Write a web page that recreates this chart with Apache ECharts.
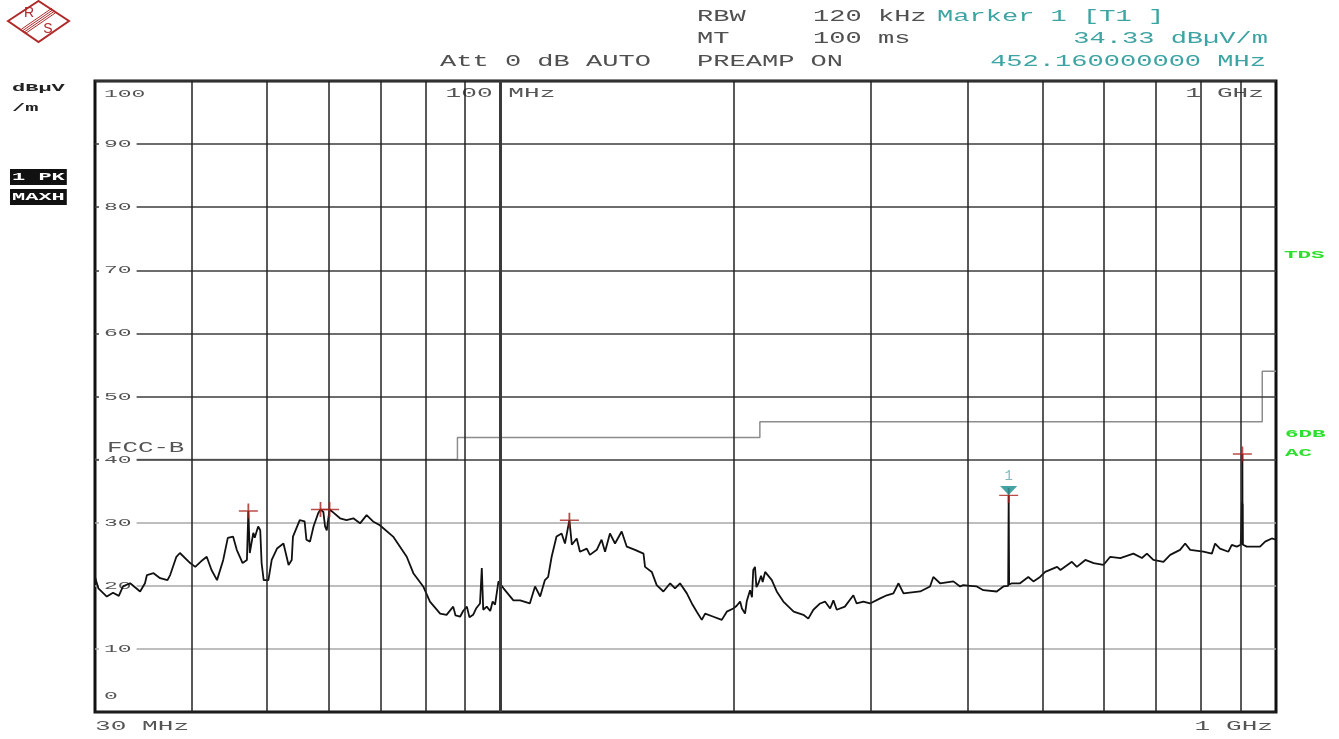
<!DOCTYPE html>
<html>
<head>
<meta charset="utf-8">
<script src="https://cdn.jsdelivr.net/npm/echarts@6/dist/echarts.min.js"></script>
<style>
  html, body { margin: 0; padding: 0; background: #fff; }
  #chart { width: 1339px; height: 739px; }
</style>
</head>
<body>
<div id="chart"></div>
<script>
// Radiated emission scan 30 MHz – 1 GHz, max-hold peak trace in dBµV/m

// Trace: frequency (MHz) and level (dBµV/m)
const traceFreq = [
  30, 30.3, 31.07, 31.65, 32.2, 32.6, 33.3, 34.3, 34.8, 35.0,
  35.7, 36.4, 37.2, 37.5, 38.2, 38.6, 39.8, 40.4, 41.3, 41.8,
  42.4, 43.1, 43.9, 44.5, 45.2, 45.7, 46.5, 47.1, 47.3, 47.5,
  48.0, 48.2, 48.7, 49.0, 49.2, 49.5, 50.2, 50.7, 51.5, 52.5,
  53.3, 53.8, 54.0, 55.1, 55.9, 56.2, 56.8, 57.4, 58.2, 58.6,
  59.1, 59.4, 59.7, 60.2, 60.9, 62.1, 63.3, 64.6, 65.9, 67.2,
  68.5, 69.9, 72.7, 75.7, 77.2, 79.5, 81.1, 83.6, 85.2, 86.9, 87.5,
  88.7, 89.5, 90.5, 91.2, 92.2, 93.0, 94.1, 94.6, 95.0, 96.0, 97.0, 97.7, 98.4, 99.4, 100.9,
  103.9, 106.0, 106.5, 109.1, 110.8, 112.5, 114.1, 115.2, 116.4, 118.1,
  119.9, 121.1, 122.7, 123.6, 125.4, 126.6, 129.2, 130.4, 133.1, 135.0,
  136.4, 138.4, 140.5, 143.3, 145.5, 149.1, 152.9, 153.6, 156.7, 159.0,
  162.2, 165.5, 167.9, 170.4, 173.9, 176.5, 179.1, 181.8, 183.6, 188.2,
  192.9, 195.8, 199.6, 201.5, 203.7, 204.8, 206.7, 207.8, 209.8, 211.0, 211.8, 212.9, 213.8, 215.1, 216.8, 217.8, 219.4, 223.8,
  227.1, 231.6, 238.8, 245.8, 249.4, 253.2, 258.3, 262.1, 266.1, 268.7,
  271.4, 278.0, 285.1, 287.9, 293.7, 299.6, 308.7, 314.9, 321.1, 326.0,
  330.9, 347.7, 358.0, 361.5, 368.8, 383.7, 391.4, 395.2, 403.2, 411.3,
  419.4, 436.4, 445.1, 451.5, 452.16, 452.8, 456.7, 467.7, 479.3, 486.6,
  496.3, 503.9, 522.1, 527.3, 545.5, 553.6, 567.7, 581.9, 599.0, 611.3,
  629.8, 654.8, 671.6, 681.6, 694.8, 715.9, 730.4, 752.1, 763.6, 775.1,
  806.1, 826.6, 834.6, 846.8, 868.2, 877.0, 890.0, 900.5, 903.5, 904.0,
  904.5, 905.0, 905.5, 906.0, 906.5, 917.0, 953.8, 968.3, 987.6, 1000
];
const traceLevel = [
  21.4, 19.6, 18.3, 18.9, 18.4, 19.9, 20.4, 19.1, 20.4, 21.7,
  22.0, 21.2, 20.9, 21.7, 24.6, 25.2, 23.6, 23.0, 24.1, 24.6,
  22.5, 20.9, 24.1, 27.6, 27.8, 25.7, 23.6, 24.1, 31.85, 25.2,
  28.4, 27.6, 29.4, 28.8, 23.6, 20.9, 20.9, 24.1, 25.9, 26.7,
  23.3, 24.1, 27.8, 30.4, 30.2, 27.3, 27.0, 29.4, 31.5, 32.1,
  31.7, 29.4, 28.8, 32.1, 31.6, 30.7, 30.4, 30.7, 29.9, 31.2,
  30.2, 29.6, 27.8, 24.6, 22.0, 19.9, 17.5, 15.6, 15.4, 16.7, 15.3,
  15.1, 16.0, 16.7, 15.0, 15.4, 16.4, 17.2, 22.8, 16.2, 16.7, 16.0, 17.5, 17.0, 20.7, 19.6,
  17.7, 17.7, 17.5, 17.2, 19.9, 18.3, 20.9, 21.4, 24.6, 27.8,
  28.3, 26.7, 30.4, 26.5, 27.5, 25.4, 25.9, 24.9, 25.7, 27.3,
  25.4, 28.3, 26.7, 28.6, 26.2, 25.7, 25.1, 23.0, 22.2, 20.1,
  19.1, 20.4, 19.6, 20.4, 18.8, 17.2, 15.9, 14.6, 15.6, 15.1,
  14.6, 15.9, 16.4, 16.8, 17.5, 16.4, 15.6, 17.6, 19.3, 18.2, 22.5, 23.0, 19.8, 20.4, 21.6, 20.6, 22.2, 20.9,
  19.1, 17.5, 15.9, 15.4, 14.8, 16.2, 17.2, 17.5, 16.4, 17.7,
  16.2, 16.7, 18.5, 17.2, 17.5, 17.2, 18.0, 18.5, 18.8, 20.4,
  18.8, 19.1, 19.9, 21.4, 20.4, 20.7, 19.9, 20.1, 20.0, 19.9,
  19.3, 19.1, 19.9, 20.0, 34.33, 20.2, 20.4, 20.4, 21.4, 20.7,
  21.4, 22.2, 23.0, 22.5, 23.8, 23.0, 24.1, 23.6, 23.3, 24.6,
  24.4, 25.1, 24.4, 25.1, 24.1, 23.8, 24.9, 25.7, 26.7, 25.7,
  25.4, 25.1, 26.7, 25.9, 25.4, 26.5, 26.2, 26.5, 26.4, 33.3,
  26.6, 40.9, 26.5, 33.0, 26.5, 26.2, 26.2, 27.0, 27.5, 27.3
];

// FCC class B limit line
const limitName = 'FCC-B';
const limitFreq = [30, 88, 88, 216, 216, 960, 960, 1000];
const limitLevel = [40, 40, 43.5, 43.5, 46, 46, 54, 54];

// Peak list (+) and marker 1
const peakFreq = [47.3, 58.6, 60.2, 122.7, 905.0];
const peakLevel = [31.85, 32.1, 32.1, 30.4, 40.9];
const markerFreq = 452.16;
const markerLevel = 34.33;

// Axis ticks and labels
const gridFreq = [40, 50, 60, 70, 80, 90, 100, 200, 300, 400, 500, 600, 700, 800, 900];
const yTicks = [0, 10, 20, 30, 40, 50, 60, 70, 80, 90, 100];
const yTickText = ['0', '10', '20', '30', '40', '50', '60', '70', '80', '90', '100'];
const topTickFreq = [100, 1000];
const topTickText = ['100 MHz', '1 GHz'];
const bottomTickFreq = [30, 1000];
const bottomTickText = ['30 MHz', '1 GHz'];

// Instrument settings shown in the header
const headerLeft = [['RBW', '120 kHz'], ['MT', '100 ms'], ['PREAMP', 'ON']];
const attText = 'Att 0 dB AUTO';
const unitText = ['dB\u00b5V', '/m'];
const traceModeText = ['1 PK', 'MAXH'];
const sideText = ['TDS', '6DB', 'AC'];

const FONT = "'Liberation Mono', 'DejaVu Sans Mono', monospace";
const zip = (a, b) => a.map((v, i) => [v, b[i]]);

const chart = echarts.init(document.getElementById('chart'), null, { renderer: 'canvas' });

const hLineColors = yTicks.map(v => (v === 0 ? '#222' : (v <= 30 ? '#a9a9a9' : '#3c3c3c')));

chart.setOption({
  animation: false,
  backgroundColor: '#fff',
  grid: {
    left: 95, right: 63, top: 81, bottom: 27,
    show: true, borderColor: '#111', borderWidth: 3, backgroundColor: 'transparent'
  },
  xAxis: {
    type: 'log', logBase: 10, min: 30, max: 1000,
    axisLine: { show: false }, axisTick: { show: false },
    axisLabel: { show: false }, splitLine: { show: false },
    minorTick: { show: false }, minorSplitLine: { show: false }
  },
  yAxis: {
    type: 'value', min: 0, max: 100, interval: 10, z: 1.5,
    axisLine: { show: false }, axisTick: { show: false }, axisLabel: { show: false },
    splitLine: { show: true, lineStyle: { color: hLineColors, width: 1.5 } }
  },
  series: [
    {
      name: limitName,
      type: 'line',
      data: zip(limitFreq, limitLevel),
      showSymbol: false, symbol: 'none', silent: true, z: 1,
      lineStyle: { color: '#8d8d8d', width: 1.5 },
      markLine: {
        silent: true, symbol: ['none', 'none'], animation: false,
        label: { show: false },
        emphasis: { disabled: true },
        lineStyle: { color: '#222', width: 1.5, type: 'solid' },
        data: gridFreq.map(f => (f === 100
          ? { xAxis: f, lineStyle: { color: '#3a3a3a', width: 3, type: 'solid' } }
          : { xAxis: f }))
      }
    },
    {
      name: 'Trace 1',
      type: 'line',
      data: zip(traceFreq, traceLevel),
      showSymbol: false, symbol: 'none', silent: true, z: 4,
      lineStyle: { color: '#111', width: 1.8 }
    },
    {
      name: 'Peaks',
      type: 'scatter',
      data: zip(peakFreq.concat([markerFreq]), peakLevel.concat([markerLevel])),
      symbol: 'path://M0,7L18,7M9,0L9,14',
      symbolSize: [19, 15],
      silent: true, z: 5,
      itemStyle: { color: 'none', borderColor: '#a8201a', borderWidth: 1.6 }
    },
    {
      name: 'Marker 1',
      type: 'scatter',
      data: [[markerFreq, markerLevel]],
      symbol: 'path://M0,0L20,0L10,10Z',
      symbolSize: [17, 9],
      symbolOffset: [0, -5],
      silent: true, z: 6,
      itemStyle: { color: '#178c8c' },
      label: {
        show: true, position: 'top', distance: 3, formatter: '1',
        color: '#5aa8a8', fontFamily: FONT, fontSize: 14
      }
    }
  ]
});

const px = f => chart.convertToPixel({ xAxisIndex: 0 }, f);
const py = v => chart.convertToPixel({ yAxisIndex: 0 }, v);

function label(text, x, y, o) {
  const align = o.align || 'left';
  const style = {
    text,
    font: `${o.weight || 'normal'} ${o.size}px ${FONT}`,
    fill: o.color,
    align, textAlign: align,
    verticalAlign: 'middle', textVerticalAlign: 'middle'
  };
  if (o.bg) { style.backgroundColor = o.bg; style.padding = o.pad || 0; }
  return { type: 'text', x, y, scaleX: o.sx || 1, z: o.z == null ? 3 : o.z, silent: true, style };
}

const H = { size: 16, sx: 1.69, color: '#505050', z: 7 };
const T = { size: 16, sx: 1.69, color: '#3da3a3', z: 7 };
const Y = { size: 11.5, sx: 2.0, color: '#555', bg: '#fff', pad: [1, 2.5], z: 3 };
const X = { size: 12.5, sx: 2.09, color: '#555', z: 3 };
const B = { size: 11, weight: 'bold', sx: 2.0, color: '#222', z: 7 };
const G = { size: 11, weight: 'bold', sx: 2.05, color: '#2ee02e', z: 7 };

const gfx = [];

// Header: settings and marker readout
gfx.push(label(headerLeft[0][0], 697, 17, H));
gfx.push(label(headerLeft[0][1], 813, 17, H));
gfx.push(label('Marker 1 [T1 ]', 937, 17, T));
gfx.push(label(headerLeft[1][0], 697, 39, H));
gfx.push(label(headerLeft[1][1], 813, 39, H));
gfx.push(label(markerLevel.toFixed(2) + ' dB\u00b5V/m', 1268, 39, Object.assign({}, T, { align: 'right' })));
gfx.push(label(attText, 440, 62, H));
gfx.push(label(headerLeft[2].join(' '), 697, 62, H));
gfx.push(label(markerFreq.toFixed(9) + ' MHz', 1266, 62, Object.assign({}, T, { align: 'right' })));

// Unit and trace mode at the left
gfx.push(label(unitText[0], 12, 88, B));
gfx.push(label(unitText[1], 12, 108, B));
gfx.push(label(traceModeText[0], 10, 177, Object.assign({}, B, { color: '#fff', bg: '#111', pad: [3, 1, 2, 1] })));
gfx.push(label(traceModeText[1], 10, 197, Object.assign({}, B, { color: '#fff', bg: '#111', pad: [3, 1, 2, 1] })));

// Level labels inside the plot
yTicks.forEach((v, i) => {
  let y = py(v);
  if (v === yTicks[yTicks.length - 1]) y += 13;
  else if (v === yTicks[0]) y -= 16;
  gfx.push(label(yTickText[i], 99, y, Y));
});

// Frequency labels: inside at the top, below the plot at the bottom
topTickFreq.forEach((f, i) => {
  const last = i === topTickFreq.length - 1;
  gfx.push(label(topTickText[i], last ? px(f) - 10 : px(f), 94,
    Object.assign({}, X, { align: last ? 'right' : 'center', bg: '#fff', pad: [2, 1], z: 3 })));
});
bottomTickFreq.forEach((f, i) => {
  const last = i === bottomTickFreq.length - 1;
  gfx.push(label(bottomTickText[i], last ? px(f) - 3 : px(f), 727,
    Object.assign({}, X, { align: last ? 'right' : 'left' })));
});

// Limit line name
gfx.push(label(limitName, px(limitFreq[0]) + 12, py(limitLevel[0]) - 11,
  { size: 14, sx: 1.84, color: '#555', z: 3.5 }));

// Detector / coupling notes on the right
gfx.push(label(sideText[0], 1284, 255, G));
gfx.push(label(sideText[1], 1285, 434, G));
gfx.push(label(sideText[2], 1285, 453, G));

// Brand mark: red rhombus with R, S and a hatched band
const red = '#b02a2a';
gfx.push({
  type: 'polygon', z: 7, silent: true,
  shape: { points: [[8, 21], [38.5, 1], [69, 21], [38.5, 42]] },
  style: { fill: 'none', stroke: red, lineWidth: 2 }
});
[-3, -1, 1, 3].forEach(d => {
  gfx.push({
    type: 'line', z: 7, silent: true,
    shape: { x1: 53.7 + d * 0.55, y1: 10.5 + d * 0.8, x2: 23.2 + d * 0.55, y2: 31.5 + d * 0.8 },
    style: { stroke: red, lineWidth: 1 }
  });
});
gfx.push({
  type: 'text', x: 29, y: 13, z: 7, silent: true,
  style: { text: 'R', font: "14px 'Liberation Sans', sans-serif", fill: red, align: 'center', textAlign: 'center', verticalAlign: 'middle', textVerticalAlign: 'middle' }
});
gfx.push({
  type: 'text', x: 48, y: 29, z: 7, silent: true,
  style: { text: 'S', font: "14px 'Liberation Sans', sans-serif", fill: red, align: 'center', textAlign: 'center', verticalAlign: 'middle', textVerticalAlign: 'middle' }
});

chart.setOption({ graphic: gfx });
</script>
</body>
</html>
